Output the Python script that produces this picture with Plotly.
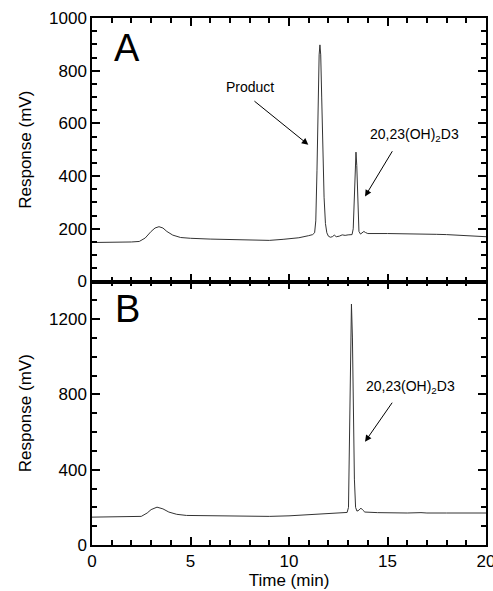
import plotly.graph_objects as go
from plotly.subplots import make_subplots

# Panel A chromatogram
time_a = [0, 0.5, 1, 1.5, 2, 2.4, 2.7, 3.0, 3.2, 3.4, 3.6, 3.8, 4.1, 4.5, 5, 6, 7, 8, 9, 9.7, 10.5,
          11.0, 11.2, 11.30, 11.36, 11.42, 11.48, 11.53, 11.57, 11.61, 11.66, 11.72, 11.78, 11.85,
          11.92, 12.0, 12.1, 12.2, 12.3, 12.4, 12.55, 12.7, 12.85, 13.0, 13.2, 13.26, 13.31, 13.36,
          13.40, 13.44, 13.49, 13.55, 13.63, 13.72, 13.8, 13.88, 14.0, 15, 16, 17, 17.5, 18, 19, 20]
resp_a = [148, 148, 149, 149, 150, 152, 165, 190, 203, 208, 203, 190, 176, 167, 164, 161, 159, 157, 156, 160, 166,
          174, 178, 185, 230, 420, 680, 860, 898, 860, 700, 480, 320, 220,
          185, 172, 168, 170, 176, 170, 172, 177, 175, 177, 178, 200, 330, 460,
          491, 440, 280, 190, 180, 185, 190, 186, 182, 182, 181, 182, 179, 178, 174, 170]

# Panel B chromatogram
time_b = [0, 1, 2, 2.5, 2.8, 3.0, 3.3, 3.6, 3.9, 4.3, 4.8, 6, 7, 8, 9, 10, 11, 12, 12.7, 12.95,
          13.02, 13.07, 13.12, 13.17, 13.22, 13.27, 13.32, 13.38, 13.45, 13.55, 13.65, 13.75, 13.85,
          14.5, 15, 16, 16.7, 17, 18, 19, 20]
resp_b = [148, 148, 149, 152, 170, 188, 201, 192, 175, 163, 157, 155, 153, 151, 152, 155, 160, 166, 171, 173,
          200, 500, 1000, 1280, 1100, 700, 350, 200, 180, 185, 196, 185, 175,
          172, 170, 170, 172, 170, 170, 170, 170]

x_ticks = [0, 5, 10, 15, 20]
ya_ticks = [0, 200, 400, 600, 800, 1000]
yb_ticks = [0, 400, 800, 1200]

FONT = "Liberation Sans, Arial, Helvetica, sans-serif"

fig = make_subplots(rows=2, cols=1, shared_xaxes=True, vertical_spacing=0)
fig.add_trace(go.Scatter(x=time_a, y=resp_a, mode="lines",
                         line=dict(color="#333333", width=1), showlegend=False), row=1, col=1)
fig.add_trace(go.Scatter(x=time_b, y=resp_b, mode="lines",
                         line=dict(color="#333333", width=1), showlegend=False), row=2, col=1)

axis_common = dict(showline=True, linecolor="black", linewidth=1.5, mirror="allticks",
                   ticks="inside", ticklen=8, tickwidth=1.6, tickcolor="black",
                   showgrid=False, zeroline=False, automargin=False,
                   tickfont=dict(family=FONT, size=17, color="black"))

fig.update_xaxes(range=[0, 20], tickmode="array", tickvals=x_ticks, ticklabeloverflow="allow",
                 minor=dict(dtick=1, ticklen=5, tickwidth=1.5, ticks="inside", tickcolor="black"),
                 **axis_common)
fig.update_xaxes(showticklabels=False, row=1, col=1)
fig.update_xaxes(title=dict(text="Time (min)", font=dict(family=FONT, size=17, color="black"), standoff=2),
                 row=2, col=1)

fig.update_yaxes(range=[0, 1000], tickmode="array", tickvals=ya_ticks,
                 minor=dict(dtick=50, ticklen=5, tickwidth=1.5, ticks="inside", tickcolor="black"),
                 title=dict(text="Response (mV)", font=dict(family=FONT, size=17, color="black"), standoff=13),
                 row=1, col=1, **axis_common)
fig.update_yaxes(range=[0, 1400], tickmode="array", tickvals=yb_ticks,
                 minor=dict(dtick=100, ticklen=5, tickwidth=1.5, ticks="inside", tickcolor="black"),
                 title=dict(text="Response (mV)", font=dict(family=FONT, size=17, color="black"), standoff=13),
                 row=2, col=1, **axis_common)

ann_font = dict(family=FONT, size=14, color="black")
label_font = dict(family=FONT, size=38, color="black")
annotations = [
    dict(x=1.78, y=886, xref="x", yref="y", text="A", showarrow=False, font=label_font),
    dict(x=1.78, y=1253, xref="x2", yref="y2", text="B", showarrow=False, font=label_font),
    dict(x=8.0, y=737, xref="x", yref="y", text="Product", showarrow=False, font=ann_font),
    dict(x=10.98, y=519, xref="x", yref="y", ax=8.17, ay=689, axref="x", ayref="y",
         text="", showarrow=True, arrowhead=2, arrowsize=1.3, arrowwidth=1, arrowcolor="black", standoff=0),
    dict(x=16.35, y=557, xref="x", yref="y", text="20,23(OH)<sub>2</sub>D3", showarrow=False, font=ann_font),
    dict(x=13.86, y=323, xref="x", yref="y", ax=15.29, ay=500, axref="x", ayref="y",
         text="", showarrow=True, arrowhead=2, arrowsize=1.3, arrowwidth=1, arrowcolor="black", standoff=0),
    dict(x=16.19, y=837, xref="x2", yref="y2", text="20,23(OH)<sub>2</sub>D3", showarrow=False, font=ann_font),
    dict(x=13.86, y=549, xref="x2", yref="y2", ax=15.29, ay=764, axref="x2", ayref="y2",
         text="", showarrow=True, arrowhead=2, arrowsize=1.3, arrowwidth=1, arrowcolor="black", standoff=0),
]

fig.update_layout(width=493, height=591, margin=dict(l=92, r=7, t=18, b=46),
                  paper_bgcolor="white", plot_bgcolor="white",
                  font=dict(family=FONT, color="black"), annotations=annotations)

fig.write_html("out.html", config={"displayModeBar": False},
               post_script="document.body.style.margin='0';document.body.style.padding='0';"
                           "document.body.style.overflow='hidden';")
